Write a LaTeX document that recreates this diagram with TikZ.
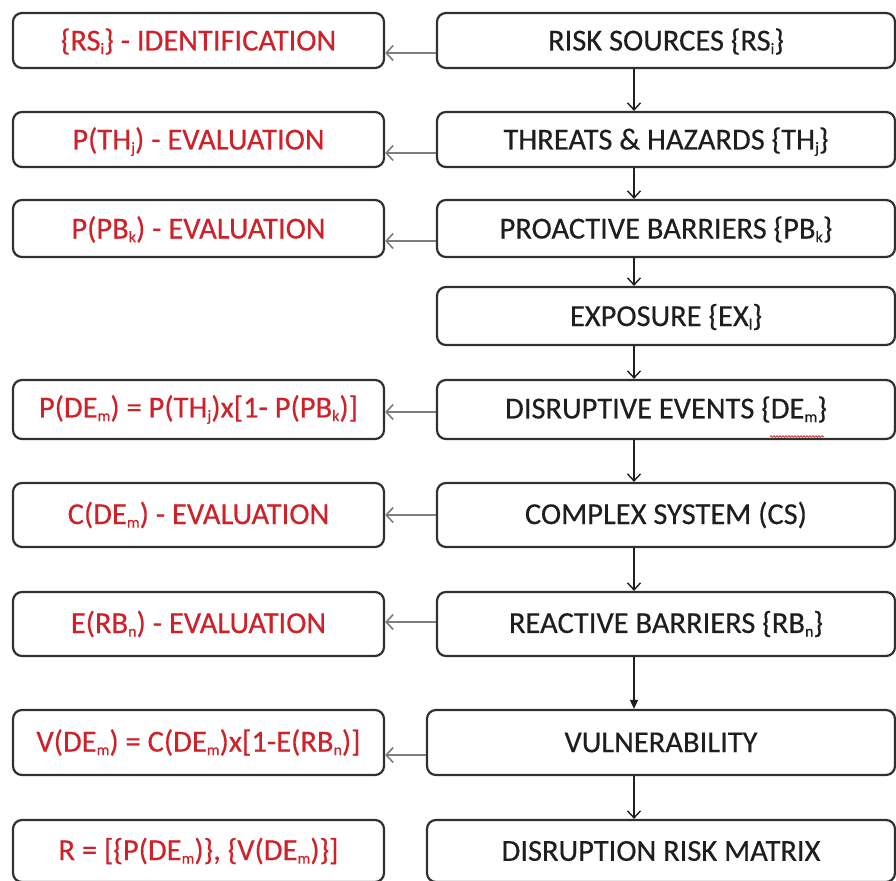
\documentclass[tikz,border=0pt]{standalone}
\usepackage{fontspec}
\setmainfont{Carlito}[FakeBold=0.35]
\usetikzlibrary{arrows.meta,decorations.pathmorphing,calc}
\definecolor{boxline}{RGB}{48,48,48}
\definecolor{redtxt}{RGB}{206,34,42}
\definecolor{graylink}{RGB}{125,125,125}
\definecolor{darktxt}{RGB}{30,30,30}
% small lowered index letters
\newcommand\sbx[1]{\raisebox{-0.12em}{\fontsize{16}{16}\selectfont #1}}

\begin{document}
\begin{tikzpicture}[x=1pt,y=-1pt,
  box/.style={draw=boxline,line width=2.2pt,rounded corners=9pt,inner sep=0pt,
    align=center,font=\fontsize{30.5}{34}\selectfont},
  lowtext/.style={text height=27pt,text depth=7pt},
  lbox/.style={box,minimum width=371pt,text=redtxt},
  rbox/.style={box,minimum width=458pt,text=darktxt},
  wbox/.style={box,minimum width=468pt,text=darktxt},
  harrow/.style={draw=graylink,line width=1.8pt,
    -{Straight Barb[length=7pt,width=15pt,line width=1.6pt]}},
  varrow/.style={draw=darktxt,line width=1.6pt,
    -{Straight Barb[length=7pt,width=13pt,line width=1.4pt]}},
  farrow/.style={draw=darktxt,line width=1.6pt,
    -{Triangle[length=9pt,width=8pt]}}
]
\useasboundingbox (0,0) rectangle (896,880);
\fill[white] (0,0) rectangle (896,880);
\clip (0,0) rectangle (896,880);

% evaluation column
\node[lbox,lowtext,minimum height=55pt] (l1) at (198.5,40.5) {\{RS\sbx{i}\} - IDENTIFICATION};
\node[lbox,lowtext,minimum height=55pt] (l2) at (198.5,139.5) {P(TH\sbx{j}) - EVALUATION};
\node[lbox,lowtext,minimum height=57pt] (l3) at (198.5,228.5) {P(PB\sbx{k}) - EVALUATION};
\node[lbox,minimum height=59pt] (l5) at (198.5,409.5) {P(DE\sbx{m}) = P(TH\sbx{j})x[1- P(PB\sbx{k})]};
\node[lbox,minimum height=64pt] (l6) at (198.5,515) {C(DE\sbx{m}) - EVALUATION};
\node[lbox,minimum height=64pt] (l7) at (198.5,624) {E(RB\sbx{n}) - EVALUATION};
\node[lbox,minimum height=65pt] (l8) at (198.5,742.5) {V(DE\sbx{m}) = C(DE\sbx{m})x[1-E(RB\sbx{n})]};
\node[lbox,minimum height=62pt] (l9) at (198.5,851) {R = [\{P(DE\sbx{m})\}, \{V(DE\sbx{m})\}]};

% process column
\node[rbox,lowtext,minimum height=55pt] (r1) at (666,40.5) {RISK SOURCES \{RS\sbx{i}\}};
\node[rbox,lowtext,minimum height=55pt] (r2) at (666,139.5) {THREATS \& HAZARDS \{TH\sbx{j}\}};
\node[rbox,lowtext,minimum height=57pt] (r3) at (666,228.5) {PROACTIVE BARRIERS \{PB\sbx{k}\}};
\node[rbox,lowtext,minimum height=58pt] (r4) at (666,316) {EXPOSURE \{EX\sbx{l}\}};
\node[rbox,minimum height=59pt] (r5) at (666,409.5) {DISRUPTIVE EVENTS \{DE\sbx{m}\}};
\node[rbox,minimum height=64pt] (r6) at (666,515) {COMPLEX SYSTEM (CS)};
\node[rbox,minimum height=64pt] (r7) at (666,624) {REACTIVE BARRIERS \{RB\sbx{n}\}};
\node[wbox,minimum height=65pt] (r8) at (661,742.5) {VULNERABILITY};
\node[wbox,minimum height=62pt] (r9) at (661,851) {DISRUPTION RISK MATRIX};

% spell-check squiggle under the index term
\draw[redtxt,line width=0.7pt,decorate,decoration={snake,amplitude=0.9pt,segment length=3pt}]
  ($(r5.center)+(104,27)$) -- ($(r5.center)+(158,27)$);

% process flow
\coordinate (cx) at (634,0);
\draw[varrow] (r1.south -| cx) -- (r2.north -| cx);
\draw[varrow] (r2.south -| cx) -- (r3.north -| cx);
\draw[varrow] (r3.south -| cx) -- (r4.north -| cx);
\draw[varrow] (r4.south -| cx) -- (r5.north -| cx);
\draw[varrow] (r5.south -| cx) -- (r6.north -| cx);
\draw[varrow] (r6.south -| cx) -- (r7.north -| cx);
\draw[farrow] (r7.south -| cx) -- (r8.north -| cx);
\draw[varrow] (r8.south -| cx) -- (r9.north -| cx);

% links to the evaluation column
\draw[harrow] (r1.west |- 0,53) -- (l1.east |- 0,53);
\draw[harrow] (r2.west |- 0,153) -- (l2.east |- 0,153);
\draw[harrow] (r3.west |- 0,241) -- (l3.east |- 0,241);
\draw[harrow] (r5.west |- 0,412) -- (l5.east |- 0,412);
\draw[harrow] (r6.west |- 0,515) -- (l6.east |- 0,515);
\draw[harrow] (r7.west |- 0,622) -- (l7.east |- 0,622);
\draw[harrow] (r8.west |- 0,755) -- (l8.east |- 0,755);
\end{tikzpicture}
\end{document}
